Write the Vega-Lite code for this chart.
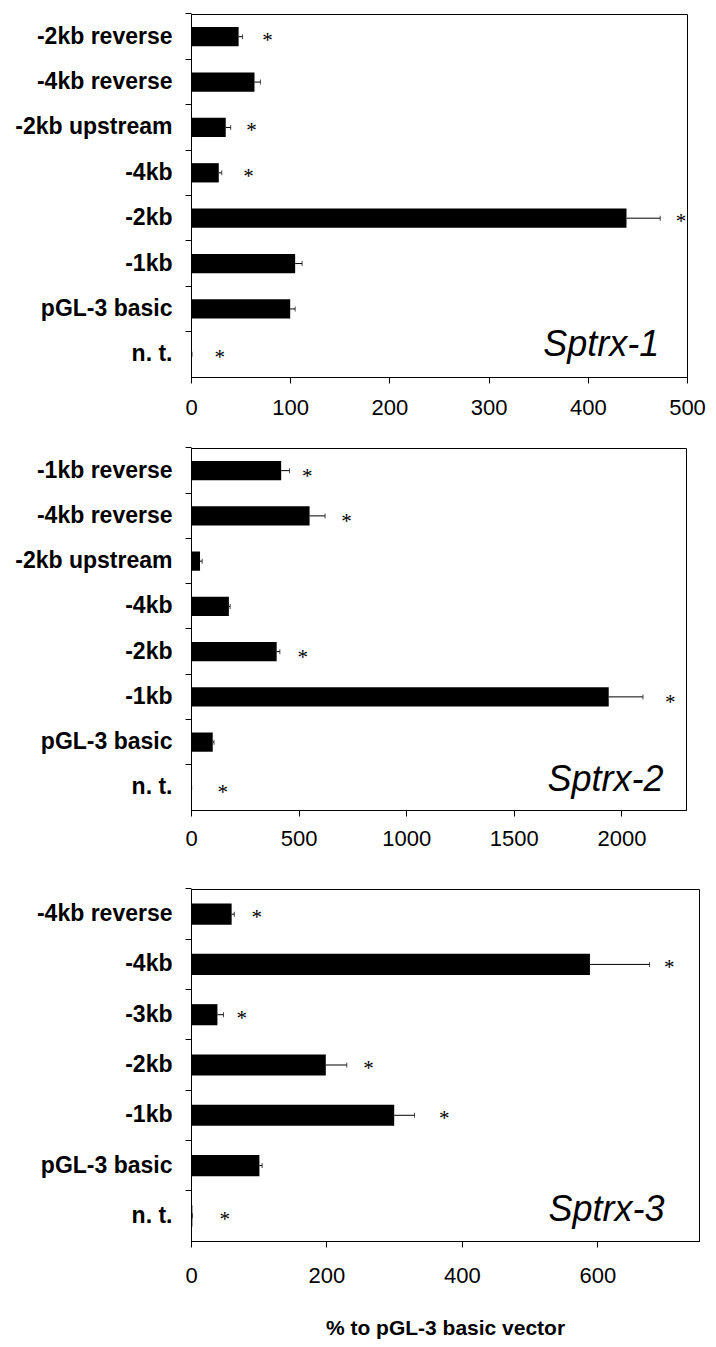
{
  "$schema": "https://vega.github.io/schema/vega-lite/v6.json",
  "background": "white",
  "padding": {"left": 14, "top": 12, "right": 5, "bottom": 5},
  "config": {
    "view": {"stroke": "black", "strokeWidth": 1},
    "axis": {"domainColor": "black", "tickColor": "black", "labelColor": "black", "titleColor": "black", "grid": false, "tickSize": 6, "domainWidth": 1, "tickWidth": 1},
    "axisY": {"labelFont": "Liberation Sans", "labelFontSize": 23, "labelFontWeight": "bold", "labelPadding": 13, "bandPosition": -0.6765, "labelLimit": 300},
    "axisX": {"labelFont": "Liberation Sans", "labelFontSize": 22, "labelFlush": false, "labelOverlap": false, "format": "d"},
    "concat": {"spacing": 25}
  },
  "vconcat": [
    {
      "width": 496,
      "height": 363,
      "data": {"values": [
        {"construct": "-2kb reverse", "value": 48, "err": 52, "star": 77},
        {"construct": "-4kb reverse", "value": 64, "err": 70, "star": null},
        {"construct": "-2kb upstream", "value": 35, "err": 40, "star": 61},
        {"construct": "-4kb", "value": 28, "err": 31, "star": 58},
        {"construct": "-2kb", "value": 439, "err": 473, "star": 494},
        {"construct": "-1kb", "value": 105, "err": 112, "star": null},
        {"construct": "pGL-3 basic", "value": 100, "err": 105, "star": null},
        {"construct": "n. t.", "value": 1, "err": 1, "star": 29}
      ]},
      "encoding": {
        "y": {"field": "construct", "type": "nominal", "sort": null, "scale": {"paddingInner": 0.575, "paddingOuter": 0.2875}, "axis": {"title": null}}
      },
      "layer": [
        {"mark": {"type": "bar", "color": "black"},
         "encoding": {"x": {"field": "value", "type": "quantitative", "scale": {"domain": [0, 500], "nice": false, "zero": true},
           "axis": {"values": [0, 100, 200, 300, 400, 500], "title": null, "labelPadding": 14, "minExtent": 43}}}},
        {"mark": {"type": "rule", "color": "black", "strokeWidth": 1},
         "encoding": {"x": {"field": "value", "type": "quantitative"}, "x2": {"field": "err"}}},
        {"mark": {"type": "tick", "color": "black", "thickness": 1, "size": 5},
         "encoding": {"x": {"field": "err", "type": "quantitative"}}},
        {"transform": [{"filter": "datum.star != null"}],
         "mark": {"type": "text", "text": "*", "font": "Liberation Serif", "fontSize": 21, "baseline": "middle", "dy": 4, "color": "black"},
         "encoding": {"x": {"field": "star", "type": "quantitative"}}},
        {"data": {"values": [{"gene": "Sptrx-1"}]},
         "mark": {"type": "text", "font": "Liberation Sans", "fontStyle": "italic", "fontSize": 36, "align": "right", "baseline": "alphabetic", "dy": 2, "color": "black"},
         "encoding": {"x": {"datum": 472, "type": "quantitative"}, "y": {"datum": "n. t.", "type": "nominal"}, "text": {"field": "gene"}}}
      ]
    },
    {
      "width": 495,
      "height": 362,
      "data": {"values": [
        {"construct": "-1kb reverse", "value": 419, "err": 458, "star": 540},
        {"construct": "-4kb reverse", "value": 551, "err": 623, "star": 722},
        {"construct": "-2kb upstream", "value": 42, "err": 52, "star": null},
        {"construct": "-4kb", "value": 176, "err": 182, "star": null},
        {"construct": "-2kb", "value": 398, "err": 413, "star": 519},
        {"construct": "-1kb", "value": 1941, "err": 2100, "star": 2227},
        {"construct": "pGL-3 basic", "value": 101, "err": 107, "star": null},
        {"construct": "n. t.", "value": 3, "err": 3, "star": 148}
      ]},
      "encoding": {
        "y": {"field": "construct", "type": "nominal", "sort": null, "scale": {"paddingInner": 0.575, "paddingOuter": 0.2875}, "axis": {"title": null}}
      },
      "layer": [
        {"mark": {"type": "bar", "color": "black"},
         "encoding": {"x": {"field": "value", "type": "quantitative", "scale": {"domain": [0, 2300], "nice": false, "zero": true},
           "axis": {"values": [0, 500, 1000, 1500, 2000], "title": null, "labelPadding": 12, "minExtent": 51}}}},
        {"mark": {"type": "rule", "color": "black", "strokeWidth": 1},
         "encoding": {"x": {"field": "value", "type": "quantitative"}, "x2": {"field": "err"}}},
        {"mark": {"type": "tick", "color": "black", "thickness": 1, "size": 5},
         "encoding": {"x": {"field": "err", "type": "quantitative"}}},
        {"transform": [{"filter": "datum.star != null"}],
         "mark": {"type": "text", "text": "*", "font": "Liberation Serif", "fontSize": 21, "baseline": "middle", "dy": 6, "color": "black"},
         "encoding": {"x": {"field": "star", "type": "quantitative"}}},
        {"data": {"values": [{"gene": "Sptrx-2"}]},
         "mark": {"type": "text", "font": "Liberation Sans", "fontStyle": "italic", "fontSize": 36, "align": "right", "baseline": "alphabetic", "dy": 4, "color": "black"},
         "encoding": {"x": {"datum": 2196, "type": "quantitative"}, "y": {"datum": "n. t.", "type": "nominal"}, "text": {"field": "gene"}}}
      ]
    },
    {
      "width": 508,
      "height": 352,
      "data": {"values": [
        {"construct": "-4kb reverse", "value": 60, "err": 64, "star": 97},
        {"construct": "-4kb", "value": 589, "err": 677, "star": 706},
        {"construct": "-3kb", "value": 39, "err": 48, "star": 75},
        {"construct": "-2kb", "value": 199, "err": 230, "star": 262},
        {"construct": "-1kb", "value": 300, "err": 330, "star": 374},
        {"construct": "pGL-3 basic", "value": 101, "err": 105, "star": null},
        {"construct": "n. t.", "value": 2, "err": 2, "star": 50}
      ]},
      "encoding": {
        "y": {"field": "construct", "type": "nominal", "sort": null, "scale": {"paddingInner": 0.58, "paddingOuter": 0.29}, "axis": {"title": null, "bandPosition": -0.6905}}
      },
      "layer": [
        {"mark": {"type": "bar", "color": "black"},
         "encoding": {"x": {"field": "value", "type": "quantitative", "scale": {"domain": [0, 750], "nice": false, "zero": true},
           "axis": {"values": [0, 200, 400, 600], "title": "% to pGL-3 basic vector", "labelPadding": 18,
             "titleFont": "Liberation Sans", "titleFontSize": 21, "titleFontWeight": "bold", "titlePadding": 31}}}},
        {"mark": {"type": "rule", "color": "black", "strokeWidth": 1},
         "encoding": {"x": {"field": "value", "type": "quantitative"}, "x2": {"field": "err"}}},
        {"mark": {"type": "tick", "color": "black", "thickness": 1, "size": 5},
         "encoding": {"x": {"field": "err", "type": "quantitative"}}},
        {"transform": [{"filter": "datum.star != null"}],
         "mark": {"type": "text", "text": "*", "font": "Liberation Serif", "fontSize": 21, "baseline": "middle", "dy": 4, "color": "black"},
         "encoding": {"x": {"field": "star", "type": "quantitative"}}},
        {"data": {"values": [{"gene": "Sptrx-3"}]},
         "mark": {"type": "text", "font": "Liberation Sans", "fontStyle": "italic", "fontSize": 36, "align": "right", "baseline": "alphabetic", "dy": 5, "color": "black"},
         "encoding": {"x": {"datum": 699, "type": "quantitative"}, "y": {"datum": "n. t.", "type": "nominal"}, "text": {"field": "gene"}}}
      ]
    }
  ]
}
